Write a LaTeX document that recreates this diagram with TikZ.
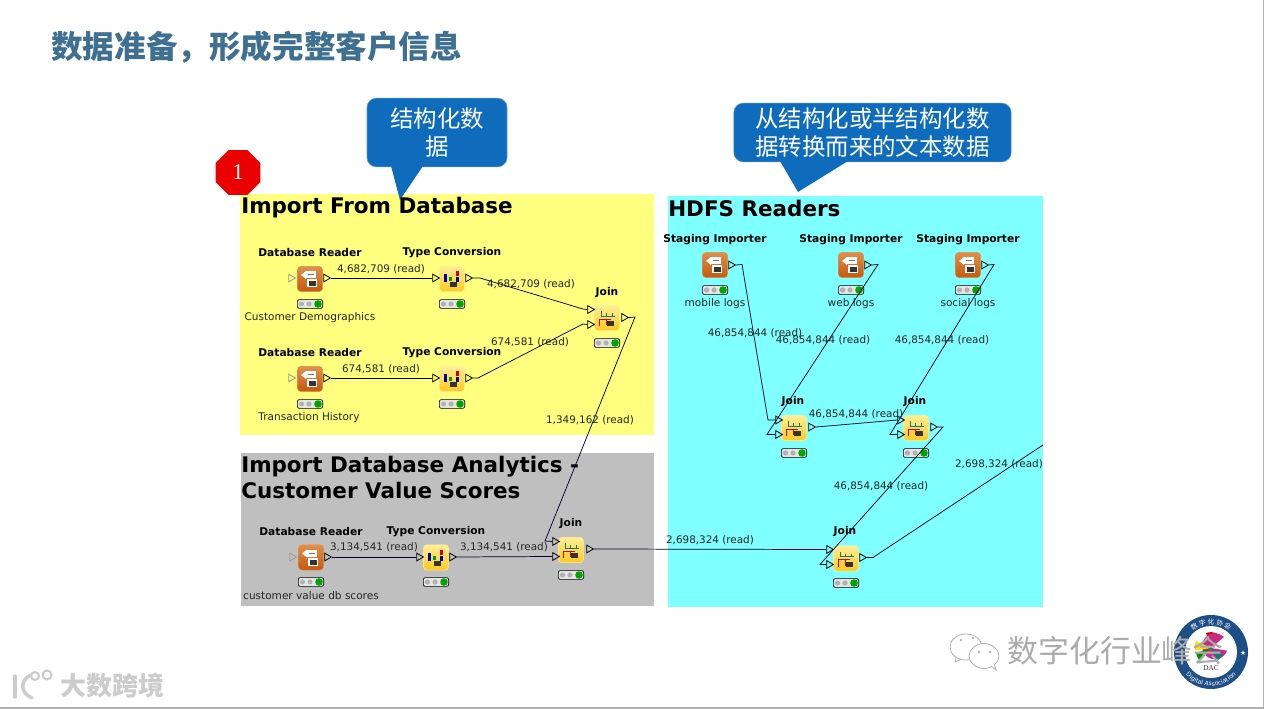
\documentclass[tikz,border=0pt]{standalone}
\usepackage{fontspec}
\setmainfont{DejaVu Sans}
\newfontfamily\cjk{Noto Sans CJK SC}
\newfontfamily\badgefont{Liberation Serif}
\usepackage{xcolor}
\usetikzlibrary{shapes.geometric,decorations.text,positioning,calc}
\definecolor{paneyellow}{HTML}{FFFF7F}
\definecolor{panecyan}{HTML}{7FFFFF}
\definecolor{panegrey}{HTML}{BFBFBF}
\definecolor{noteblue}{HTML}{0F6CBD}
\definecolor{slatetitle}{HTML}{3F7091}
\definecolor{ringblue}{HTML}{1D4F86}
\definecolor{readertop}{HTML}{E0904A}
\definecolor{readerlow}{HTML}{C4590F}
\definecolor{joinertop}{HTML}{FFEE96}
\definecolor{joinerlow}{HTML}{FFC91F}
\tikzset{
    slidetitle/.style={
        anchor=west, inner sep=0pt, text=slatetitle,
        font=\cjk\bfseries\fontsize{23.7pt}{28pt}\selectfont
    },
    panetitle/.style={
        anchor=west, inner sep=0pt, align=left, text=black,
        font=\bfseries\fontsize{16.1pt}{18.8pt}\selectfont
    },
    note/.style={
        rectangle, rounded corners=7pt, fill=noteblue, draw=noteblue!70!white,
        inner sep=0pt, align=center, text=white,
        font=\cjk\fontsize{17.6pt}{21pt}\selectfont
    },
    badge/.style={
        regular polygon, regular polygon sides=8, fill=red!92!black,
        minimum size=36.5pt, inner sep=0pt, text=white,
        font=\badgefont\fontsize{17pt}{17pt}\selectfont
    },
    nodehead/.style={inner sep=0pt, yshift=-.75pt, text=black, font=\bfseries\fontsize{8pt}{9pt}\selectfont},
    nodetext/.style={inner sep=0pt, yshift=-1pt, text=black!85, font=\fontsize{7.9pt}{9pt}\selectfont},
    edgetext/.style={inner sep=0pt, yshift=-.75pt, text=black!85, font=\fontsize{7.8pt}{9pt}\selectfont},
    knime/.style={rectangle, rounded corners=2.5pt, minimum size=18.8pt, inner sep=0pt},
    reader/.style={
        knime, top color=readertop, bottom color=readerlow,
        draw=readertop, line width=.4pt,
        path picture={
            \begin{scope}[sharp corners, shift={(path picture bounding box.center)}]
                \fill[white] (-4,-8) rectangle (6,-1);
                \fill[white] (-9,-4) -- (-4,-8) -- (-4,0) -- cycle;
                \fill[black!55] (-2,-5) rectangle (4,-4);
                \fill[white] (-3,0) rectangle (7,8);
                \fill[black!80] (-1,2) rectangle (6,7);
            \end{scope}
        }
    },
    converter/.style={
        knime, top color=joinertop, bottom color=joinerlow,
        draw=joinertop, line width=.4pt,
        path picture={
            \begin{scope}[sharp corners, shift={(path picture bounding box.center)}]
                \fill[blue!70!black] (-8,-5) rectangle (-5,3);
                \fill[green!60!black] (-3,-2) rectangle (0,2);
                \fill[red!80!black] (4,-8) rectangle (7,-3);
                \fill[blue!70!black] (4,-2) rectangle (7,3);
                \fill[black!80] (-2,3) rectangle (5,8);
            \end{scope}
        }
    },
    joiner/.style={
        knime, top color=joinertop, bottom color=joinerlow,
        draw=joinertop, line width=.4pt,
        path picture={
            \begin{scope}[sharp corners, shift={(path picture bounding box.center)}]
                \draw[teal,line width=.6pt] (-6,-7) -- (-6,-2) -- (8,-2) (-1,-5) -- (-1,-2) (5,-5) -- (5,-2);
                \draw[red!85!black,line width=.7pt] (-8,8) -- (-8,1) -- (4,1) (-1,1) -- (-1,7);
                \fill[black!80] (0,3) rectangle (7,8);
            \end{scope}
        }
    },
    statuslight/.style={
        rectangle, rounded corners=1.5pt, draw=black, fill=white!90!black, line width=.5pt,
        minimum width=19pt, minimum height=6.6pt, inner sep=0pt,
        path picture={
            \begin{scope}[shift={(path picture bounding box.center)}]
                \fill[black!30] (-8.5,0) circle (2.6);
                \fill[black!30] (-1,0) circle (2.6);
                \fill[green!65!black] (8,0) circle (3.8);
            \end{scope}
        }
    },
    portout/.style={
        regular polygon, regular polygon sides=3, regular polygon rotate=-90,
        draw=black, line width=.6pt, minimum size=6.6pt, inner sep=0pt
    },
    portidle/.style={portout, draw=black!40},
    edge/.style={draw=black!85!blue, line width=.55pt},
    wmark/.style={inner sep=0pt, text=black!33, font=\cjk\fontsize{23.2pt}{26pt}\selectfont},
    wmarksmall/.style={inner sep=0pt, text=black!20, font=\cjk\bfseries\fontsize{19.5pt}{22pt}\selectfont}
}
\begin{document}
\begin{tikzpicture}[x=0.75pt, y=-0.75pt]
\useasboundingbox (0,0) rectangle (1265,709);

%% page edge
\draw[black!30, line width=1.2pt] (1263.5,0) -- (1263.5,708) -- (0,708);

\node[slidetitle] (title) at (51,47.5) {数据准备，形成完整客户信息};

%% Panes
\fill[paneyellow] (240,194) rectangle (654,435);
\fill[panegrey]   (241,453) rectangle (654,606);
\fill[panecyan]   (668,196) rectangle (1043,607);

%% Notes with their tails
\node[note, minimum width=105pt, minimum height=51.5pt] (note1) at (437,132.5) {结构化数\\据};
\fill[noteblue] (391,166) -- (400,200) -- (423,166) -- cycle;
\node[note, minimum width=208pt, minimum height=44pt] (note2) at (872.5,132.5) {从结构化或半结构化数\\据转换而来的文本数据};
\fill[noteblue] (780,161) -- (798,192) -- (848,161) -- cycle;

\node[badge] (badge) at (238,172.5) {1};

\node[panetitle] (dbtitle) at (241,208) {Import From Database};
\node[panetitle] (gtitle)  at (241,477.5) {Import Database Analytics -\\Customer Value Scores};
\node[panetitle] (htitle)  at (668,208) {HDFS Readers};

%% Row 1 -- customer demographics
\node[reader]      (read1) at (310,279) {};
\node[nodehead]    (read1h) at (310,252) {Database Reader};
\node[statuslight] (read1s) at (310,304) {};
\node[nodetext]    (read1t) at (310,316) {Customer Demographics};
\node[portidle]    (read1i) at (291,278) {};
\node[portout]     (read1o) at (326,278) {};
\node[converter]   (conv1) at (452,279) {};
\node[nodehead]    (conv1h) at (452,252) {Type Conversion};
\node[statuslight] (conv1s) at (452,304) {};
\node[portout]     (conv1i) at (435,278) {};
\node[portout]     (conv1o) at (468,278) {};

%% Row 2 -- transaction history
\node[reader]      (read2) at (310,379) {};
\node[nodehead]    (read2h) at (310,352) {Database Reader};
\node[statuslight] (read2s) at (310,404) {};
\node[nodetext]    (read2t) at (309,416) {Transaction History};
\node[portidle]    (read2i) at (291,378) {};
\node[portout]     (read2o) at (326,378) {};
\node[converter]   (conv2) at (452,379) {};
\node[nodehead]    (conv2h) at (452,352) {Type Conversion};
\node[statuslight] (conv2s) at (452,404) {};
\node[portout]     (conv2i) at (435,378) {};
\node[portout]     (conv2o) at (468,378) {};

%% Join of the two rows
\node[joiner]      (join1) at (607,318) {};
\node[nodehead]    (join1h) at (607,292) {Join};
\node[statuslight] (join1s) at (607,343) {};
\node[portout]     (join1a) at (590,309.5) {};
\node[portout]     (join1b) at (590,324.5) {};
\node[portout]     (join1o) at (624,317.5) {};

%% Grey pane
\node[reader]      (read3) at (311,557.5) {};
\node[nodehead]    (read3h) at (311,531) {Database Reader};
\node[statuslight] (read3s) at (311,582) {};
\node[nodetext]    (read3t) at (311,594) {customer value db scores};
\node[portidle]    (read3i) at (292,557) {};
\node[portout]     (read3o) at (327,557) {};
\node[converter]   (conv3) at (436,557.5) {};
\node[nodehead]    (conv3h) at (436,531) {Type Conversion};
\node[statuslight] (conv3s) at (436,582) {};
\node[portout]     (conv3i) at (419,557) {};
\node[portout]     (conv3o) at (452,557) {};
\node[joiner]      (join3) at (571,550) {};
\node[nodehead]    (join3h) at (571,523) {Join};
\node[statuslight] (join3s) at (571,575) {};
\node[portout]     (join3a) at (555,541.5) {};
\node[portout]     (join3b) at (555,556.5) {};
\node[portout]     (join3o) at (589,549) {};

%% HDFS pane -- three importers
\node[reader]      (stag1) at (715,265) {};
\node[nodehead]    (stag1h) at (715,238.5) {Staging Importer};
\node[statuslight] (stag1s) at (715,290) {};
\node[nodetext]    (stag1t) at (715,302) {mobile logs};
\node[portout]     (stag1o) at (731,265) {};
\node[reader]      (stag2) at (851,265) {};
\node[nodehead]    (stag2h) at (851,238.5) {Staging Importer};
\node[statuslight] (stag2s) at (851,290) {};
\node[nodetext]    (stag2t) at (851,302) {web logs};
\node[portout]     (stag2o) at (867,265) {};
\node[reader]      (stag3) at (968,265) {};
\node[nodehead]    (stag3h) at (968,238.5) {Staging Importer};
\node[statuslight] (stag3s) at (968,290) {};
\node[nodetext]    (stag3t) at (968,302) {social logs};
\node[portout]     (stag3o) at (984,265) {};

%% HDFS pane -- joins
\node[joiner]      (joina) at (794,428) {};
\node[nodehead]    (joinah) at (793,401) {Join};
\node[statuslight] (joinas) at (794,453) {};
\node[portout]     (joinai) at (778,420) {};
\node[portout]     (joinaj) at (778,434.5) {};
\node[portout]     (joinao) at (811,427) {};
\node[joiner]      (joinb) at (916,428) {};
\node[nodehead]    (joinbh) at (915,401) {Join};
\node[statuslight] (joinbs) at (916,453) {};
\node[portout]     (joinbi) at (900,420) {};
\node[portout]     (joinbj) at (900,434.5) {};
\node[portout]     (joinbo) at (933,427) {};
\node[joiner]      (joinc) at (846,558.5) {};
\node[nodehead]    (joinch) at (845,531) {Join};
\node[statuslight] (joincs) at (846,583) {};
\node[portout]     (joinci) at (829,549.5) {};
\node[portout]     (joincj) at (829,564.5) {};
\node[portout]     (joinco) at (862,557.5) {};
\coordinate (offpane) at (1043,445);

%% Connectors
\draw[edge] (read1o.east) -- (conv1i.west);
\draw[edge] (read2o.east) -- (conv2i.west);
\draw[edge] (conv1o.east) -- (480,278) -- (583,309) -- (join1a.west);
\draw[edge] (conv2o.east) -- (478,378) -- (583,324) -- (join1b.west);
\draw[edge] (join1o.east) -- (635,317) -- (545,541) -- (join3a.west);
\draw[edge] (read3o.east) -- (conv3i.west);
\draw[edge] (conv3o.east) -- (join3b.west);
\draw[edge] (join3o.east) -- (joinci.west);
\draw[edge] (stag1o.east) -- (742,264.5) -- (768,420) -- (joinai.west);
\draw[edge] (stag2o.east) -- (878,264.5) -- (767,434.5) -- (joinaj.west);
\draw[edge] (stag3o.east) -- (994,264.5) -- (890,434.5) -- (joinbj.west);
\draw[edge] (joinao.east) -- (joinbi.west);
\draw[edge] (joinbo.east) -- (943,427) -- (820,564.5) -- (joincj.west);
\draw[edge] (joinco.east) -- (873,557.5) -- (offpane);

%% Row counts
\node[edgetext] (cnt1) at (381,268) {4,682,709 (read)};
\node[edgetext] (cnt2) at (531,283) {4,682,709 (read)};
\node[edgetext] (cnt3) at (381,368) {674,581 (read)};
\node[edgetext] (cnt4) at (530,341) {674,581 (read)};
\node[edgetext] (cnt5) at (590,419) {1,349,162 (read)};
\node[edgetext] (cnt6) at (374,546) {3,134,541 (read)};
\node[edgetext] (cnt7) at (504,546) {3,134,541 (read)};
\node[edgetext] (cnt8) at (710,539) {2,698,324 (read)};
\node[edgetext] (cnt9) at (755,332) {46,854,844 (read)};
\node[edgetext] (cnt10) at (823,339) {46,854,844 (read)};
\node[edgetext] (cnt11) at (942,339) {46,854,844 (read)};
\node[edgetext] (cnt12) at (856,413) {46,854,844 (read)};
\node[edgetext] (cnt13) at (881,485) {46,854,844 (read)};
\node[edgetext] (cnt14) at (999,463) {2,698,324 (read)};

%% Seal, bottom right
\fill[ringblue] (1211,652) circle (37);
\fill[white] (1211,652) circle (26);
\fill[red!85!black] (1211,648) -- (1206,633) arc (250:300:14) -- cycle;
\fill[magenta!80!black] (1211,648) -- (1224,637) arc (315:20:13) -- cycle;
\fill[yellow!85!orange] (1211,648) -- (1196,641) arc (205:170:16) -- cycle;
\fill[green!55!black] (1211,648) -- (1196,653) arc (170:140:14) -- cycle;
\fill[teal] (1211,648) -- (1218,660) arc (60:20:10) -- cycle;
\node[inner sep=0pt, font=\badgefont\fontsize{5.5pt}{6pt}\selectfont, text=black!80] (sealname) at (1211,668) {DAC};
\node[inner sep=0pt, text=white, font=\fontsize{5pt}{5pt}\selectfont] (sealstar) at (1243,653) {★};
\path[decorate, decoration={text along path, text align=center,
    text={|\fontsize{4.6pt}{5pt}\selectfont\color{white}|Digital Association}}]
    (1177,652) arc (180:360:34 and -34);
\path[decorate, decoration={text along path, text align=center,
    text={|\cjk\fontsize{5pt}{5pt}\selectfont\color{white}|数 字 化 协 会}}]
    (1183,652) arc (180:0:28 and -28);

%% WeChat mark and channel name
\draw[black!30, line width=.6pt, fill=white] (966,647) ellipse (16 and 13);
\draw[black!30, line width=.6pt] (956,657) -- (955,662) -- (962,659);
\draw[black!30, line width=.6pt, fill=white] (984,656) ellipse (15 and 12.5);
\draw[black!30, line width=.6pt, fill=white] (991,666) -- (996,670) -- (994,664);
\fill[black!30] (961,640) circle (1.3) (973,638) circle (1.3) (979,652) circle (1.3) (990,652) circle (1.3);
\node[wmark, anchor=west] (channel) at (1007,651) {数字化行业峰会};

%% Watermark, bottom left
\draw[black!20, line width=2.6pt, line cap=round] (15,676) -- (15,697);
\draw[black!20, line width=2.6pt, line cap=round] (30,675) .. controls (20,681) and (20,693) .. (32,698);
\draw[black!20, line width=1.6pt] (35,676) circle (4) (47,675) circle (4.5);
\node[wmarksmall, anchor=west] (source) at (60,686) {大数跨境};

\end{tikzpicture}
\end{document}
